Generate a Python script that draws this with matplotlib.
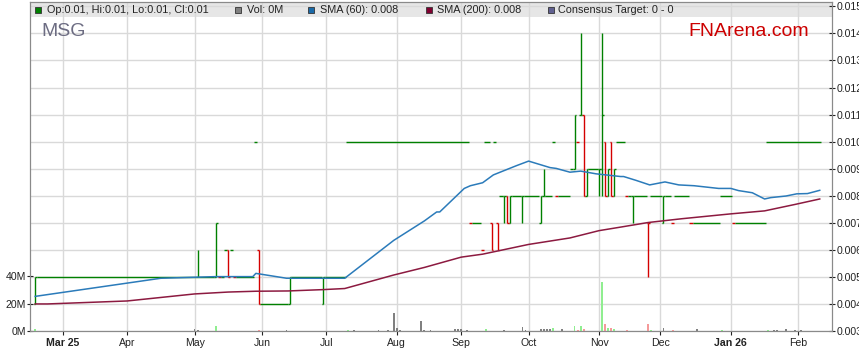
"""MSG price chart (FNArena style): OHLC bars, SMA 60/200, volume."""

import matplotlib

matplotlib.use("Agg")
import matplotlib.pyplot as plt  # noqa: E402
import numpy as np  # noqa: E402
import pandas as pd  # noqa: E402
from matplotlib.patches import Rectangle  # noqa: E402

plt.rcParams["font.family"] = ["Liberation Sans", "DejaVu Sans"]

# --- data (x = weekday index from START) ---------------------------------
START = "2025-02-18"
N_DAYS = 257

# days with no range (O=H=L=C): first day, last day, price
flat_first = [1, 54, 60, 62, 64, 65, 72, 74, 84, 95, 102, 142, 146, 147,
              150, 152, 156, 160, 167, 169, 170, 175, 177, 181, 190, 193,
              196, 201, 206, 208, 209, 214, 224, 228, 239]
flat_last = [52, 58, 61, 62, 64, 71, 72, 82, 93, 101, 141, 145, 146, 148,
             150, 152, 158, 164, 168, 169, 174, 175, 177, 183, 192, 194,
             199, 204, 207, 208, 213, 223, 227, 238, 256]
flat_price = [0.005, 0.005, 0.005, 0.006, 0.006, 0.005, 0.010, 0.004, 0.005,
              0.005, 0.010, 0.007, 0.006, 0.010, 0.010, 0.008, 0.008, 0.008,
              0.008, 0.010, 0.008, 0.009, 0.010, 0.009, 0.010, 0.008, 0.008,
              0.008, 0.008, 0.007, 0.008, 0.007, 0.008, 0.007, 0.010]

# days with a range
bar_day = [0, 53, 59, 63, 73, 83, 94, 149, 151, 153, 154, 155, 159, 165,
           166, 176, 178, 179, 180, 184, 185, 186, 187, 188, 189, 195, 200,
           205]
bar_open = [0.004, 0.005, 0.005, 0.006, 0.006, 0.004, 0.004, 0.007, 0.007,
            0.008, 0.008, 0.007, 0.008, 0.007, 0.008, 0.009, 0.011, 0.011,
            0.008, 0.009, 0.009, 0.010, 0.008, 0.010, 0.008, 0.008, 0.007,
            0.007]
bar_high = [0.005, 0.006, 0.007, 0.006, 0.006, 0.005, 0.005, 0.007, 0.007,
            0.008, 0.008, 0.008, 0.008, 0.008, 0.009, 0.011, 0.014, 0.011,
            0.009, 0.009, 0.014, 0.010, 0.009, 0.010, 0.009, 0.008, 0.007,
            0.008]
bar_low = [0.004, 0.005, 0.005, 0.005, 0.004, 0.004, 0.004, 0.006, 0.006,
           0.007, 0.007, 0.007, 0.007, 0.007, 0.008, 0.009, 0.011, 0.008,
           0.008, 0.008, 0.008, 0.008, 0.008, 0.008, 0.008, 0.007, 0.005,
           0.007]
bar_close = [0.005, 0.005, 0.007, 0.005, 0.004, 0.005, 0.005, 0.006, 0.006,
             0.008, 0.007, 0.008, 0.008, 0.008, 0.008, 0.011, 0.011, 0.008,
             0.009, 0.009, 0.011, 0.008, 0.009, 0.008, 0.009, 0.008, 0.007,
             0.008]

sma60_day = [0, 41, 59, 71, 72, 82, 101, 117, 127, 131, 132, 140, 142, 146,
             149.5, 157, 161, 168, 170, 174.5, 178, 183, 191, 192, 196,
             200.5, 205.5, 210, 215, 223, 227, 229.5, 234, 238, 240, 245,
             248.5, 252, 256]
sma60_val = [0.00428, 0.00495, 0.00501, 0.00501, 0.00513, 0.00495, 0.00495,
             0.00635, 0.00707, 0.0074, 0.0074, 0.00827, 0.00837, 0.00848,
             0.00877, 0.00911, 0.00928, 0.00904, 0.00901, 0.00887, 0.00891,
             0.00881, 0.00871, 0.00871, 0.00857, 0.0084, 0.00851, 0.0084,
             0.00837, 0.00827, 0.00827, 0.00819, 0.00811, 0.00788, 0.00793,
             0.00799, 0.00807, 0.00808, 0.0082]

sma200_day = [0, 4, 30, 52, 63, 72, 82.5, 94, 101, 117, 127, 139, 146, 161,
              174.5, 184, 191, 200, 211, 227, 238, 248, 256]
sma200_val = [0.004, 0.004, 0.00411, 0.00437, 0.00444, 0.00447, 0.00448,
              0.00453, 0.00457, 0.00507, 0.00535, 0.00573, 0.00584, 0.0062,
              0.00644, 0.00671, 0.00684, 0.00701, 0.00715, 0.00733, 0.00744,
              0.00768, 0.00788]

vol_day = [0, 52, 53, 59, 73, 82, 102, 104, 112, 115, 117, 118, 119, 126,
           127, 129, 137, 138, 139, 141, 147, 153, 159, 160, 165, 166, 167,
           168, 169, 172, 176, 177, 178, 179, 185, 186, 187, 188, 189, 193,
           200, 201, 205, 208, 216, 224, 239, 241, 242, 245, 248, 250]
vol_m = [1.7, 1.5, 1.0, 3.7, 0.7, 0.5, 0.7, 0.5, 1.0, 0.7, 13.4, 2.4, 0.5,
         7.1, 0.7, 0.5, 1.2, 1.5, 1.2, 0.7, 1.7, 0.7, 3.0, 1.0, 1.2, 1.2, 1.2,
         1.2, 2.4, 1.7, 3.7, 1.0, 3.7, 1.7, 35.8, 5.4, 2.4, 2.4, 1.7, 0.7,
         4.8, 0.7, 2.4, 0.7, 1.7, 0.7, 0.7, 0.7, 0.7, 1.7, 0.7, 0.7]

legend_labels = ["Op:0.01, Hi:0.01, Lo:0.01, Cl:0.01", "Vol: 0M",
                 "SMA (60): 0.008", "SMA (200): 0.008",
                 "Consensus Target: 0 - 0"]

GREEN = "#008000"
RED = "#d40000"
BLUE = "#2b7bba"
MAROON = "#8c1a40"
legend_colors = [GREEN, "#808080", "#1a6aa8", "#800030", "#606090"]

# --- build daily OHLC ---------------------------------------------------------
o = np.full(N_DAYS, np.nan)
h = np.full(N_DAYS, np.nan)
lo = np.full(N_DAYS, np.nan)
c = np.full(N_DAYS, np.nan)
for a, b, p in zip(flat_first, flat_last, flat_price):
    o[a:b + 1] = h[a:b + 1] = lo[a:b + 1] = c[a:b + 1] = p
for d, po, ph, pl, pc in zip(bar_day, bar_open, bar_high, bar_low, bar_close):
    o[d], h[d], lo[d], c[d] = po, ph, pl, pc

prev = np.concatenate([[c[0]], c[:-1]])
up = np.where(c > o + 1e-9, True, np.where(c < o - 1e-9, False, c >= prev - 1e-9))
bar_col = np.where(up, GREEN, RED)

dates = pd.bdate_range(START, periods=N_DAYS)
x = np.arange(N_DAYS)

# merge neighbouring flat days of same price/colour into one segment
is_flat = np.isclose(h, lo)
seg_y, seg_x0, seg_x1, seg_c = [], [], [], []
for i in range(N_DAYS):
    if (is_flat[i] and seg_y and i > 0 and is_flat[i - 1]
            and np.isclose(seg_y[-1], c[i]) and seg_c[-1] == bar_col[i]
            and np.isclose(seg_x1[-1], i - 0.5)):
        seg_x1[-1] = i + 0.5
    elif is_flat[i]:
        seg_y.append(c[i])
        seg_x0.append(i - 0.5)
        seg_x1.append(i + 0.5)
        seg_c.append(bar_col[i])

# --- figure -------------------------------------------------------------------
fig = plt.figure(figsize=(8.59, 3.63), dpi=100)
ax = fig.add_axes([30 / 859, 32 / 363, 802 / 859, 328.7 / 363])
ax_v = ax.twinx()

# price axis (right)
ax.set_ylim(0.003, 0.01515)
ax.set_xlim(-1.7, 260.0)
ax.yaxis.tick_right()
ax.set_yticks(np.arange(0.003, 0.0151, 0.001))
ax.set_yticklabels([f"{v:.3f}" for v in np.arange(0.003, 0.0151, 0.001)])
ax.tick_params(axis="y", direction="inout", length=4, width=0.8, pad=1,
               labelsize=7.6, colors="#222222")

# month ticks
month_idx = [i for i in range(1, N_DAYS) if dates[i].month != dates[i - 1].month]
labels = []
for k, i in enumerate(month_idx):
    d = dates[i]
    if k == 0 or d.month == 1:
        labels.append(d.strftime("%b ") + d.strftime("%y"))
    else:
        labels.append(d.strftime("%b"))
ax.set_xticks(month_idx)
ax.set_xticklabels(labels)
for t, lab in zip(ax.get_xticklabels(), labels):
    if " " in lab:
        t.set_fontweight("bold")
ax.tick_params(axis="x", direction="out", length=3, width=0.8, pad=2,
               labelsize=7.6, colors="#222222")

ax.grid(True, color="#d9d9d9", lw=1.0)
ax.set_axisbelow(True)
for s in ax.spines.values():
    s.set_color("#8a8a8a")
for s in ax_v.spines.values():
    s.set_color("#8a8a8a")

# legend band
band_h = 14.4 / 328.7
ax.add_patch(Rectangle((0, 1 - band_h), 1, band_h, transform=ax.transAxes,
                       fc="#e6e6e6", ec="none", zorder=0.5))

# OHLC: flat days as joined segments, range days as high-low + open/close ticks
ax.hlines(seg_y, seg_x0, seg_x1, colors=seg_c, lw=1.0, zorder=3)
rng = ~is_flat
ax.vlines(x[rng], lo[rng], h[rng], colors=bar_col[rng], lw=1.0, zorder=3)
ax.hlines(o[rng], x[rng] - 0.5, x[rng], colors=bar_col[rng], lw=1.0, zorder=3)
ax.hlines(c[rng], x[rng], x[rng] + 0.5, colors=bar_col[rng], lw=1.0, zorder=3)

# moving averages
ax.plot(sma60_day, sma60_val, color=BLUE, lw=1.1, zorder=4)
ax.plot(sma200_day, sma200_val, color=MAROON, lw=1.1, zorder=4)

# volume axis (left)
vd = np.array(vol_day)
vchg = c[vd] - prev[vd]
vcol = np.where(vchg > 1e-9, "#90ee90", np.where(vchg < -1e-9, "#f59a9a", "#808080"))
vcol[vd == 0] = "#90ee90"
ax_v.bar(vd, vol_m, width=0.6, color=vcol, zorder=2)
ax_v.set_ylim(0, 241)
ax_v.yaxis.tick_left()
ax_v.set_yticks([0, 20, 40])
ax_v.set_yticklabels(["0M", "20M", "40M"])
ax_v.tick_params(axis="y", direction="inout", length=4, width=0.8, pad=1,
                 labelsize=7.6, colors="#222222")

# legend entries
leg_x = [37.5, 238, 310.5, 429, 550.5]
txt_x = [46.7, 246.7, 320, 437, 558]
ly = (331 - 10) / 328.7
for lx, tx, lab, col in zip(leg_x, txt_x, legend_labels, legend_colors):
    ax_v.plot([(lx - 30) / 802], [ly], marker="s", ms=4.2, mfc=col, mec="#333333",
              mew=0.6, transform=ax.transAxes, clip_on=False, zorder=6)
    ax_v.text((tx - 30) / 802, ly, lab, transform=ax.transAxes, fontsize=7.8,
              color="#222222", va="center", ha="left", zorder=6)

ax_v.text((41 - 30) / 802, (331 - 31.5) / 328.7, "MSG", transform=ax.transAxes,
          fontsize=14, color="#6c6c82", va="center", ha="left")
ax_v.text((688 - 30) / 802, (331 - 31) / 328.7, "FNArena.com",
          transform=ax.transAxes, fontsize=14, color="#cc0000", va="center",
          ha="left")

fig.savefig("out.png", dpi=100)
